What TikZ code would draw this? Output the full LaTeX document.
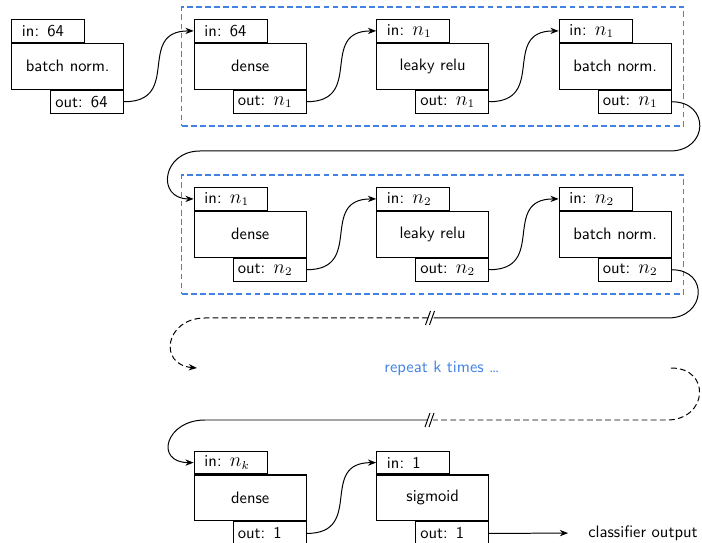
\documentclass[tikz,border=0pt]{standalone}
\usetikzlibrary{arrows.meta,fit}
\definecolor{repblue}{RGB}{66,130,226}
\tikzset{
  box/.style={draw, line width=0.65pt, inner sep=0pt, font=\sffamily},
  mainbox/.style={box, minimum width=67.6pt, minimum height=27.6pt, align=center},
  inbox/.style={box, minimum width=44pt, minimum height=13.7pt, text width=31.6pt, inner xsep=6.2pt, align=left, anchor=south west},
  outbox/.style={box, minimum width=44pt, minimum height=14pt, text width=38.6pt, inner xsep=2.7pt, align=left, anchor=north east},
  conn/.style={line width=0.6pt, -{Stealth[length=5pt,width=3.8pt]}},
  plain/.style={line width=0.6pt},
  dashconn/.style={line width=0.6pt, dash pattern=on 3.5pt off 2pt},
  grp/.style={draw=repblue, dash pattern=on 3.5pt off 2pt, line width=0.9pt, inner sep=7.2pt},
}
\newcommand\nsub[1]{$\mbox{\large$n$}_{#1}$}
\newcommand\blk[6]{%
  \node[mainbox] (#1) at (#2,#3) {#5};
  \node[inbox] (#1in) at (#1.north west) {#4};
  \node[outbox] (#1out) at (#1.south east) {#6};
}
\begin{document}
\begin{tikzpicture}[x=0.6036pt,y=-0.6036pt]
\useasboundingbox (0,0) rectangle (702,543);
% row 1
\blk{ra}{67.7}{66.2}{in: 64}{batch norm.}{out: 64}
\blk{rb}{250.2}{66.2}{in: 64}{dense}{out: \nsub{1}}
\blk{rc}{432.7}{66.2}{in: \nsub{1}}{leaky relu}{out: \nsub{1}}
\blk{rd}{615.2}{66.2}{in: \nsub{1}}{batch norm.}{out: \nsub{1}}
\node[grp, fit=(rbin)(rdout)] (g1) {};
% row 2
\blk{sa}{250.2}{234.2}{in: \nsub{1}}{dense}{out: \nsub{2}}
\blk{sb}{432.7}{234.2}{in: \nsub{2}}{leaky relu}{out: \nsub{2}}
\blk{sc}{615.2}{234.2}{in: \nsub{2}}{batch norm.}{out: \nsub{2}}
\node[grp, fit=(sain)(scout)] (g2) {};
% row 3
\blk{ta}{250.2}{497.9}{in: \nsub{k}}{dense}{out: 1}
\blk{tb}{432.7}{497.9}{in: 1}{sigmoid}{out: 1}

% connectors row 1
\draw[conn] (raout.east) to[out=0,in=180,looseness=1.5] (rbin.west);
\draw[conn] (rbout.east) to[out=0,in=180,looseness=1.5] (rcin.west);
\draw[conn] (rcout.east) to[out=0,in=180,looseness=1.5] (rdin.west);
% row 1 -> row 2
\coordinate (t1) at (670,151);
\coordinate (t2) at (200,151);
\draw[conn] (rdout.east) to[out=0,in=0,looseness=2] (t1) -- (t2) to[out=180,in=180,looseness=2] (sain.west);
% row 2
\draw[conn] (saout.east) to[out=0,in=180,looseness=1.5] (sbin.west);
\draw[conn] (sbout.east) to[out=0,in=180,looseness=1.5] (scin.west);
% row 2 -> repeat
\coordinate (u1) at (668,318);
\coordinate (bAr) at (433.5,318);
\coordinate (bAl) at (428,318);
\coordinate (u2) at (205,318);
\coordinate (ra1) at (197,368);
\draw[plain] (scout.east) to[out=0,in=0,looseness=2] (u1) -- (bAr);
\draw[dashconn, -{Stealth[length=5pt,width=3.8pt]}] (bAl) -- (u2) to[out=180,in=175,looseness=2] (ra1);
\draw[plain] (bAl) ++(-2.5,7) -- ++(5,-14);
\draw[plain] (bAl) ++(1.5,7) -- ++(5,-14);
\node[text=repblue, font=\sffamily] (rep) at (442,368) {repeat k times \dots};
% repeat -> row 3
\coordinate (rb1) at (671,368);
\coordinate (v1) at (667,420);
\coordinate (bBr) at (433,420);
\coordinate (bBl) at (427.5,420);
\coordinate (v2) at (205,420);
\draw[dashconn] (rb1) to[out=0,in=0,looseness=2] (v1) -- (bBr);
\draw[conn] (bBl) -- (v2) to[out=180,in=180,looseness=2.3] (tain.west);
\draw[plain] (bBl) ++(-2.5,7) -- ++(5,-14);
\draw[plain] (bBl) ++(1.5,7) -- ++(5,-14);
% row 3
\draw[conn] (taout.east) to[out=0,in=180,looseness=1.5] (tbin.west);
\node[font=\sffamily, anchor=west, inner sep=0pt] (cls) at (588,533) {classifier output};
\draw[conn, shorten >=12pt] (tbout.east) -- (cls.west);
\end{tikzpicture}
\end{document}
